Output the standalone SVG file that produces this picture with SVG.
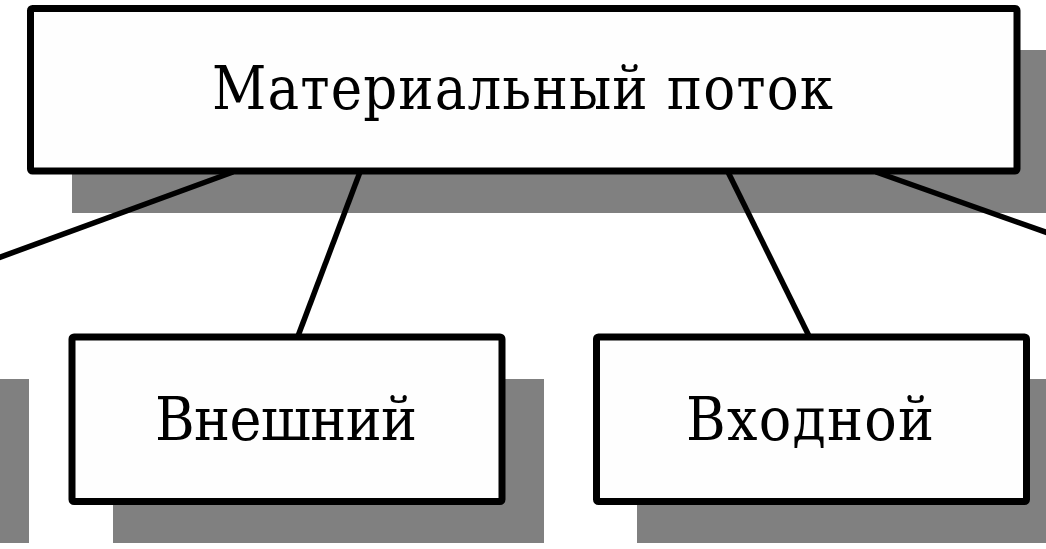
<svg xmlns="http://www.w3.org/2000/svg" width="1046" height="549" viewBox="0 0 1046 549">
<style>
.shadow{fill:#808080}
.box{fill:#fefefe;stroke:#000;stroke-width:7}
.conn{stroke:#000;stroke-width:5.5;fill:none}
.t1{font-family:"DejaVu Serif",serif;font-stretch:condensed;font-size:59px;fill:#000;text-anchor:middle}
.t2{font-family:"DejaVu Serif",serif;font-stretch:condensed;font-size:60px;fill:#000;text-anchor:middle}
</style>
<rect width="1046" height="549" fill="#fff"/>
<g id="shadows">
<rect class="shadow" x="72" y="50" width="1000" height="163"/>
<rect class="shadow" x="-400" y="379" width="429" height="164"/>
<rect class="shadow" x="113" y="379" width="431" height="164"/>
<rect class="shadow" x="637" y="379" width="431" height="164"/>
</g>
<g id="connectors">
<line class="conn" x1="233" y1="172" x2="-2" y2="258"/>
<line class="conn" x1="360" y1="172" x2="298" y2="336"/>
<line class="conn" x1="728" y1="172" x2="809" y2="336"/>
<line class="conn" x1="876" y1="172" x2="1048" y2="233"/>
</g>
<g id="node-material">
<rect class="box" x="30.5" y="8.5" width="986.5" height="162.5" rx="2"/>
<text class="t1" x="522.5" y="109" textLength="621" lengthAdjust="spacing">Материальный поток</text>
</g>
<g id="node-external">
<rect class="box" x="72" y="337" width="430" height="164.5" rx="2"/>
<text class="t2" x="286" y="440" textLength="262" lengthAdjust="spacing">Внешний</text>
</g>
<g id="node-input">
<rect class="box" x="596.5" y="337" width="430" height="164.5" rx="2"/>
<text class="t2" x="810" y="440" textLength="248" lengthAdjust="spacing">Входной</text>
</g>
</svg>
